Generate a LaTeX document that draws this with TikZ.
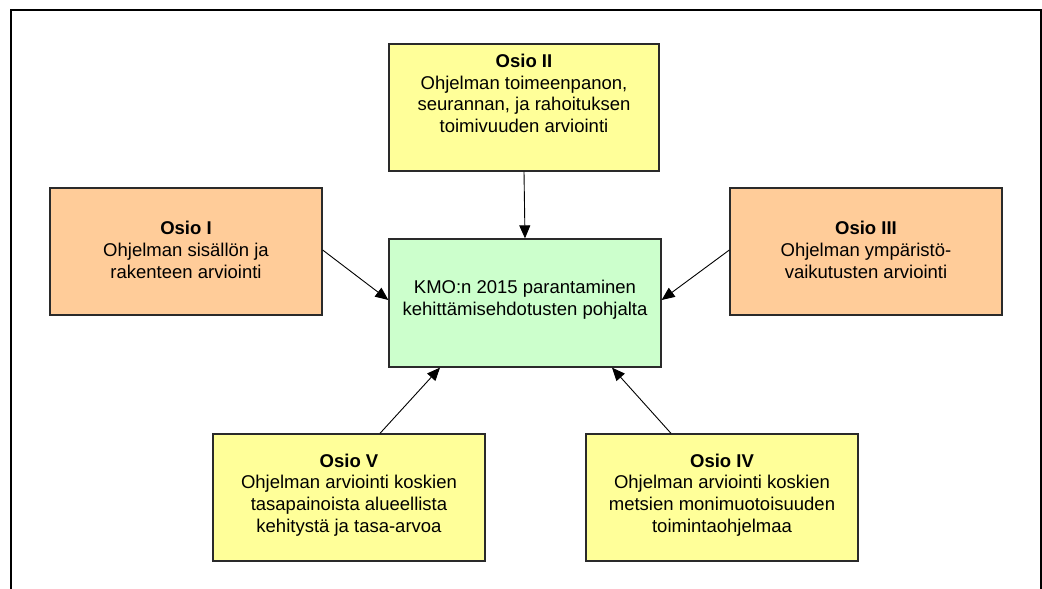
\documentclass[tikz,border=0pt]{standalone}
\usepackage{fontspec}
\setmainfont{Liberation Sans}
\usetikzlibrary{arrows.meta}
\definecolor{boxyellow}{HTML}{FFFF99}
\definecolor{boxorange}{HTML}{FFCC99}
\definecolor{boxgreen}{HTML}{CCFFCC}
\definecolor{edge}{HTML}{2A2A2A}
\begin{document}
\begin{tikzpicture}[x=1pt,y=-1pt,
  box/.style={draw=edge,line width=1.3pt,rectangle,inner sep=0pt,minimum width=272pt,minimum height=127pt},
  txt/.style={align=center,inner sep=0pt,font=\fontsize{18.5}{21.7}\selectfont},
  link/.style={line width=0.9pt,-{Triangle[length=13pt,width=11pt]}}]
  \useasboundingbox (0,0) rectangle (1042,589);
  % outer frame
  \draw[line width=2pt] (11,589) -- (11,10) -- (1040.5,10) -- (1040.5,589);

  % boxes
  \node[box,fill=boxyellow,minimum width=270pt] (s2) at (524,107.5) {};
  \node[box,fill=boxorange] (s1) at (186,251.5) {};
  \node[box,fill=boxorange] (s3) at (866,251.5) {};
  \node[box,fill=boxgreen,minimum height=128pt] (c) at (525,303) {};
  \node[box,fill=boxyellow] (s5) at (349,497.5) {};
  \node[box,fill=boxyellow] (s4) at (722,497.5) {};

  % texts
  \node[txt] (t2) at (524,93.5) {\textbf{Osio II}\\Ohjelman toimeenpanon,\\seurannan, ja rahoituksen\\toimivuuden arviointi};
  \node[txt] (t1) at (186,250) {\textbf{Osio I}\\Ohjelman sisällön ja\\rakenteen arviointi};
  \node[txt] (t3) at (866,250) {\textbf{Osio III}\\Ohjelman ympäristö-\\vaikutusten arviointi};
  \node[txt] (tc) at (525,300) {KMO:n 2015 parantaminen\\kehittämisehdotusten pohjalta};
  \node[txt] (t5) at (349,495) {\textbf{Osio V}\\Ohjelman arviointi koskien\\tasapainoista alueellista\\kehitystä ja tasa-arvoa};
  \node[txt] (t4) at (722,495) {\textbf{Osio IV}\\Ohjelman arviointi koskien\\metsien monimuotoisuuden\\toimintaohjelmaa};

  % connectors
  \draw[link] (s2.south) -- (c.north);
  \draw[link] ([yshift=1.5pt]s1.east) -- ([yshift=3pt]c.west);
  \draw[link] ([yshift=1.5pt]s3.west) -- ([yshift=3pt]c.east);
  \draw[link] ([xshift=31pt]s5.north) -- ([xshift=-85pt]c.south);
  \draw[link] ([xshift=-51pt]s4.north) -- ([xshift=87pt]c.south);
\end{tikzpicture}
\end{document}
